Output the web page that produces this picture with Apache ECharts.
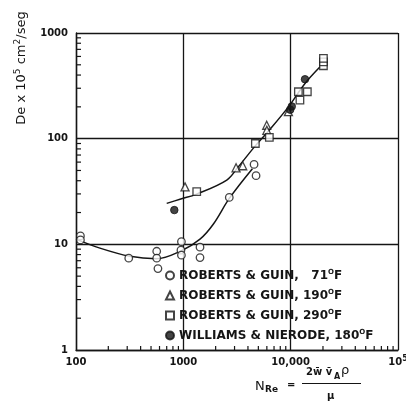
<!DOCTYPE html>
<html>
<head>
<meta charset="utf-8">
<script src="https://cdn.jsdelivr.net/npm/echarts@6/dist/echarts.min.js"></script>
<style>
  html, body { margin: 0; padding: 0; background: #fff; }
  #chart { width: 406px; height: 402px; }
</style>
</head>
<body>
<div id="chart"></div>
<script>
// Effective diffusivity vs. Reynolds number (log-log)
const INK = '#151515';
const FONT = 'DejaVu Sans';

// Axis ticks
const xTickValues = [100, 1000, 10000, 100000];
const xTickLabels = ['{n|100}', '{n|1000}', '{n|10,000}', '{n|10}{sup|5}'];
const yTickValues = [1, 10, 100, 1000];
const yTickLabels = ['1', '10', '100', '1000'];
const xMinorTicks = [200, 300, 400, 500, 600, 700, 800, 900,
                     2000, 3000, 4000, 5000, 6000, 7000, 8000, 9000,
                     20000, 30000, 40000, 50000, 60000, 70000, 80000, 90000];
const yMinorTicks = [2, 3, 4, 5, 6, 7, 8, 9,
                     20, 30, 40, 50, 60, 70, 80, 90,
                     200, 300, 400, 500, 600, 700, 800, 900];

// Series names
const seriesNames = [
  'ROBERTS & GUIN, 71°F',
  'ROBERTS & GUIN, 190°F',
  'ROBERTS & GUIN, 290°F',
  'WILLIAMS & NIERODE, 180°F'
];
const legendText = [
  '{t|ROBERTS & GUIN,   71}{s|O}{t|F}',
  '{t|ROBERTS & GUIN, 190}{s|O}{t|F}',
  '{t|ROBERTS & GUIN, 290}{s|O}{t|F}',
  '{t|WILLIAMS & NIERODE, 180}{s|O}{t|F}'
];

// Measured points [N_Re, De x 10^5]
const guin71 = [
  [110, 12], [110, 11], [310, 7.4],
  [565, 8.6], [565, 7.4], [580, 5.9],
  [960, 10.6], [950, 8.8], [960, 7.9],
  [1430, 9.4], [1430, 7.5],
  [2680, 27.8], [4560, 57], [4760, 44.6]
];
const guin190 = [
  [1037, 35], [3100, 53], [3575, 55.4],
  [5980, 134], [6000, 120], [9530, 180]
];
const guin290 = [
  [1333, 31.5], [4690, 90], [6330, 103],
  [11800, 278], [14300, 278], [12200, 232],
  [20200, 490], [20200, 534], [20200, 575]
];
const williams180 = [
  [824, 21.1], [9900, 188], [10240, 202], [13600, 365]
];

// Fitted curves
const fitLow = [
  [100, 11.2], [167, 9.2], [318, 7.7], [560, 7.3], [960, 8.7],
  [1430, 11.2], [1900, 15.5], [2700, 27.5], [4400, 52]
];
const fitHigh = [
  [700, 24.4], [930, 26.7], [1330, 29.9], [2540, 40.6], [3240, 53.9],
  [4660, 85], [6430, 123], [9530, 200], [13600, 333], [18800, 479]
];

function lookupLabel(values, labels, v) {
  const e = Math.round(Math.log10(v));
  for (let i = 0; i < values.length; i++) {
    if (Math.round(Math.log10(values[i])) === e) return labels[i];
  }
  return '';
}

const tickData = xMinorTicks.map(v => [v, 1, 0]).concat(yMinorTicks.map(v => [100, v, 1]));

const hollow = { color: '#fff', borderColor: INK, borderWidth: 1.3 };

const chart = echarts.init(document.getElementById('chart'), null, { renderer: 'canvas' });

chart.setOption({
  backgroundColor: '#fff',
  animation: false,
  grid: { left: 76, right: 8, top: 33, bottom: 52, containLabel: false, outerBoundsMode: 'none' },
  xAxis: {
    type: 'log', logBase: 10, min: 100, max: 100000,
    axisLine: { show: true, lineStyle: { color: INK, width: 1.4 } },
    axisTick: { show: false },
    splitLine: { show: true, lineStyle: { color: INK, width: 1.3 } },
    axisLabel: {
      margin: 5, color: INK, fontFamily: FONT, fontWeight: 'bold', fontSize: 10,
      showMinLabel: true, showMaxLabel: true, hideOverlap: false,
      formatter: v => lookupLabel(xTickValues, xTickLabels, v),
      rich: {
        n: { fontFamily: FONT, fontWeight: 'bold', fontSize: 10, color: INK, lineHeight: 14 },
        sup: { fontFamily: FONT, fontWeight: 'bold', fontSize: 8, color: INK, lineHeight: 8, verticalAlign: 'top' }
      }
    }
  },
  yAxis: {
    type: 'log', logBase: 10, min: 1, max: 1000,
    axisLine: { show: true, lineStyle: { color: INK, width: 1.4 } },
    axisTick: { show: false },
    splitLine: { show: true, lineStyle: { color: INK, width: 1.3 } },
    axisLabel: {
      margin: 8, color: INK, fontFamily: FONT, fontWeight: 'bold', fontSize: 10,
      showMinLabel: true, showMaxLabel: true,
      formatter: v => lookupLabel(yTickValues, yTickLabels, v)
    }
  },
  legend: {
    orient: 'vertical',
    left: 165, top: 269,
    padding: 0,
    itemGap: 7.5,
    itemWidth: 8, itemHeight: 8,
    data: seriesNames,
    formatter: name => legendText[seriesNames.indexOf(name)],
    textStyle: {
      color: INK, fontFamily: FONT, fontWeight: 'bold', fontSize: 12,
      rich: {
        t: { fontFamily: FONT, fontWeight: 'bold', fontSize: 12, color: INK, lineHeight: 13 },
        s: { fontFamily: FONT, fontWeight: 'bold', fontSize: 7, color: INK, lineHeight: 8, verticalAlign: 'top' }
      }
    }
  },
  series: [
    {
      type: 'custom', name: 'minor ticks', silent: true, z: 3,
      data: tickData,
      renderItem: (params, api) => {
        const p = api.coord([api.value(0), api.value(1)]);
        const isY = api.value(2) === 1;
        const end = isY ? [p[0] + 5, p[1]] : [p[0], p[1] - 4];
        return {
          type: 'line',
          shape: { x1: p[0], y1: p[1], x2: end[0], y2: end[1] },
          style: { stroke: INK, lineWidth: 1.2 }
        };
      }
    },
    {
      type: 'line', name: 'fit-low', data: fitLow, smooth: 0.35,
      symbol: 'none', lineStyle: { color: INK, width: 1.5 }, z: 4, silent: true
    },
    {
      type: 'line', name: 'fit-high', data: fitHigh, smooth: 0.35,
      symbol: 'none', lineStyle: { color: INK, width: 1.5 }, z: 4, silent: true
    },
    {
      type: 'scatter', name: seriesNames[0], data: guin71,
      symbol: 'circle', symbolSize: 7.5, itemStyle: hollow, z: 6
    },
    {
      type: 'scatter', name: seriesNames[1], data: guin190,
      symbol: 'triangle', symbolSize: 8, itemStyle: hollow, z: 6
    },
    {
      type: 'scatter', name: seriesNames[2], data: guin290,
      symbol: 'rect', symbolSize: 7.5, itemStyle: hollow, z: 6
    },
    {
      type: 'scatter', name: seriesNames[3], data: williams180,
      symbol: 'circle', symbolSize: 7.5, itemStyle: { color: INK, borderColor: INK, borderWidth: 1 }, z: 7
    }
  ],
  graphic: [
    // vertical axis title
    {
      type: 'text', x: 22, y: 68, rotation: Math.PI / 2,
      style: {
        text: '{t|De x 10}{s|5}{t| cm}{s|2}{t|/seg}',
        align: 'center', verticalAlign: 'middle', fill: INK,
        font: '13px "DejaVu Sans"',
        rich: {
          t: { fontFamily: FONT, fontSize: 13, fill: INK, lineHeight: 18 },
          s: { fontFamily: FONT, fontSize: 9, fill: INK, lineHeight: 10, verticalAlign: 'top' }
        }
      }
    },
    // horizontal axis title: N_Re = 2 w v_A rho / mu
    { type: 'text', left: 255, top: 380, style: { text: 'N', font: '13px "DejaVu Sans"', fill: INK } },
    { type: 'text', left: 265, top: 385, style: { text: 'Re', font: 'bold 9px "DejaVu Sans"', fill: INK } },
    { type: 'text', left: 287, top: 380, style: { text: '=', font: 'bold 10px "DejaVu Sans"', fill: INK } },
    { type: 'line', shape: { x1: 302, y1: 383.5, x2: 361, y2: 383.5 }, style: { stroke: INK, lineWidth: 1.1 } },
    { type: 'text', left: 306, top: 367, style: { text: '2w\u0304 v\u0304', font: 'bold 10px "DejaVu Sans"', fill: INK } },
    { type: 'text', left: 334, top: 373, style: { text: 'A', font: 'bold 8px "DejaVu Sans"', fill: INK } },
    { type: 'text', left: 341, top: 364, style: { text: 'ρ', font: '13px "DejaVu Sans"', fill: INK } },
    { type: 'text', left: 327, top: 391, style: { text: 'μ', font: 'bold 10px "DejaVu Sans"', fill: INK } }
  ]
});
</script>
</body>
</html>
